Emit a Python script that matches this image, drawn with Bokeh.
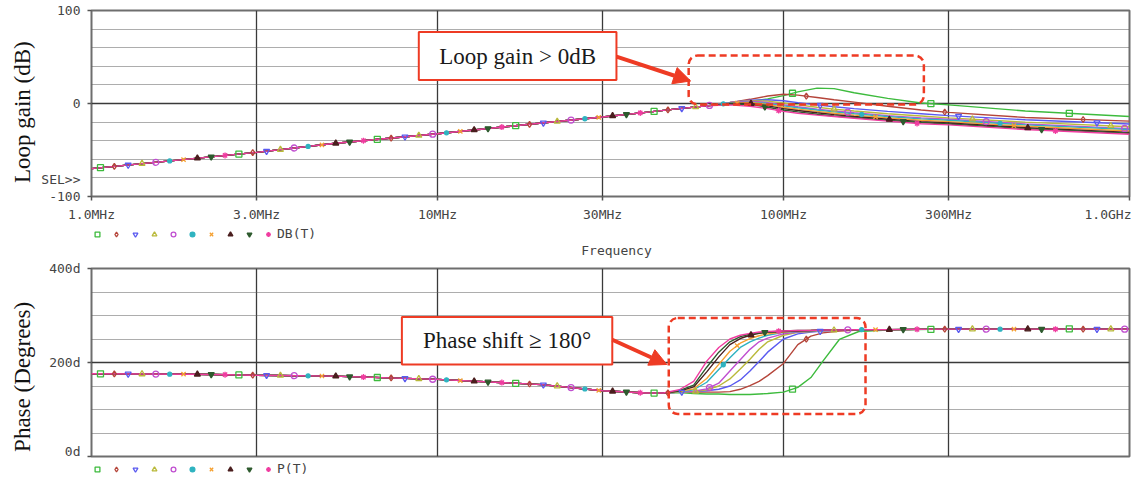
import numpy as np
from bokeh.plotting import figure
from bokeh.layouts import column
from bokeh.models import (FixedTicker, Range1d, BoxAnnotation, Label, Arrow, NormalHead,
                          Legend, LegendItem, ColumnDataSource)
from bokeh.embed import file_html
from bokeh.resources import INLINE
from bokeh.core.properties import value

# ---------------- data ----------------
freq_ticks = [1, 3, 10, 30, 100, 300, 1000]          # MHz
freq_tick_labels = ["1.0MHz", "3.0MHz", "10MHz", "30MHz", "100MHz", "300MHz", "1.0GHz"]
gain_ticks = [-100, 0, 100]
gain_tick_labels = ["-100", "0", "100"]
gain_grid_minor = [-80, -60, -40, -20, 20, 40, 60, 80]
sel_marker_level = -82                                 # "SEL>>" cursor marker on the dB axis
phase_ticks = [0, 200, 400]
phase_tick_labels = ["0d", "200d", "400d"]
phase_grid_minor = [50, 100, 150, 250, 300, 350]

series_colors = ["#3dbb3d", "#b5453a", "#5a5af0", "#b9b93a", "#c04fd0",
                 "#2fb3c0", "#f5a030", "#4a1e1e", "#2e5a2e", "#f03ca0"]
series_markers = ["square", "diamond", "inverted_triangle", "triangle", "circle",
                  "circle", "x", "triangle", "inverted_triangle", "asterisk"]
series_hollow = [True, True, True, True, True, False, False, False, False, False]

# loop gain (dB): common low-frequency part, then per-trace high-frequency part
freq_gain_low = [1, 2, 3, 5, 10, 20, 30, 40, 50]
gain_low = [-70, -59, -52.5, -43, -32.5, -21, -14.5, -9.5, -5.5]
freq_gain_high = [60, 70, 80, 90, 100, 110, 125, 140, 160, 200, 250, 300, 500, 1000]
gain_green = [-2.5, 0.0, 2.5, 5.0, 8.5, 12.5, 16.5, 16.0, 11.5, 5.5, 0.5, -1.5, -8.0, -14.0]
gain_red = [-2.5, 1.0, 4.5, 8.0, 10.0, 9.0, 6.5, 4.0, 1.5, -3.0, -7.0, -9.5, -15.0, -19.0]
gain_blue = [-2.5, 1.0, 3.5, 4.0, 3.0, 1.0, -1.5, -3.5, -5.5, -8.5, -11.0, -13.0, -17.5, -22.0]
gain_olive = [-2.5, 1.0, 3.0, 2.5, 0.5, -1.5, -4.0, -6.0, -8.0, -11.0, -13.5, -15.5, -20.0, -25.0]
gain_purple = [-2.5, 1.0, 2.5, 1.0, -1.5, -3.5, -6.0, -8.0, -10.0, -13.0, -15.5, -17.0, -22.0, -27.0]
gain_cyan = [-2.5, 0.5, 1.5, 0.0, -2.5, -4.5, -7.0, -9.0, -11.0, -14.0, -16.5, -18.0, -23.0, -28.0]
gain_orange = [-2.5, 0.0, 1.0, -1.0, -4.0, -6.0, -8.5, -10.5, -12.5, -15.5, -18.0, -19.5, -24.5, -29.5]
gain_brown = [-2.5, 0.0, 0.0, -2.5, -5.5, -7.5, -10.0, -12.0, -14.0, -17.0, -19.5, -21.0, -26.0, -31.0]
gain_dkgreen = [-2.5, -0.5, -1.0, -4.0, -7.0, -9.0, -11.5, -13.5, -15.0, -18.2, -20.5, -22.0, -27.0, -32.0]
gain_pink = [-2.5, -1.5, -3.0, -5.5, -8.5, -10.5, -12.5, -14.0, -15.8, -19.0, -21.8, -23.0, -28.0, -33.0]

# phase (degrees)
freq_phase_low = [1, 2, 3, 5, 10, 20, 30, 40, 45]
phase_low = [176, 175, 173, 171, 164, 153, 140, 135, 135]
freq_phase_high = [50, 55, 60, 65, 70, 75, 80, 85, 90, 100, 110, 120, 130, 145, 165, 200, 300, 1000]
phase_green = [136, 134, 133, 133, 132, 132, 132, 133, 134, 137, 147, 168, 203, 249, 266, 269, 271, 272]
phase_red = [137, 137, 137, 137, 138, 143, 151, 160, 172, 198, 238, 256, 263, 267, 269, 270, 271, 271]
phase_blue = [137, 138, 140, 143, 150, 163, 182, 202, 222, 250, 261, 265, 267, 269, 270, 270, 271, 271]
phase_olive = [137, 138, 142, 150, 165, 186, 207, 228, 244, 258, 264, 266, 268, 269, 270, 270, 271, 271]
phase_purple = [137, 139, 144, 156, 182, 206, 228, 244, 252, 261, 265, 267, 268, 269, 270, 270, 271, 271]
phase_cyan = [137, 142, 158, 185, 210, 232, 244, 252, 258, 264, 266, 267, 268, 269, 270, 270, 271, 271]
phase_orange = [138, 144, 166, 196, 224, 241, 251, 257, 261, 265, 267, 268, 268, 269, 270, 270, 271, 271]
phase_brown = [139, 148, 180, 212, 238, 251, 258, 262, 264, 266, 267, 268, 269, 269, 270, 270, 271, 271]
phase_dkgreen = [140, 152, 190, 222, 244, 255, 260, 263, 265, 267, 268, 268, 269, 269, 270, 270, 271, 271]
phase_pink = [142, 160, 203, 232, 250, 258, 262, 265, 266, 267, 268, 268, 269, 269, 270, 270, 271, 271]

gain_high_all = [gain_green, gain_red, gain_blue, gain_olive, gain_purple,
                 gain_cyan, gain_orange, gain_brown, gain_dkgreen, gain_pink]
phase_high_all = [phase_green, phase_red, phase_blue, phase_olive, phase_purple,
                  phase_cyan, phase_orange, phase_brown, phase_dkgreen, phase_pink]

# ---------------- styling ----------------
RED = "#ee3b24"
MONO = "DejaVu Sans Mono"
SERIF = "Liberation Serif"
TICK_COL = "#444444"
W = 1131
NBSP = "\u00a0"
BL, BR = 91, 2          # frame left / right borders shared by all rows


def base_fig(height, top, bottom, yr, x_axis=True):
    p = figure(width=W, height=height, x_axis_type="log", x_range=Range1d(1, 1000),
               y_range=Range1d(*yr), output_backend="svg", toolbar_location=None,
               x_axis_location="below" if x_axis else None,
               min_border_left=BL, min_border_right=BR, min_border_top=top, min_border_bottom=bottom)
    p.outline_line_color = "#6e6e6e"
    p.outline_line_width = 2
    p.background_fill_color = "white"
    p.border_fill_color = "white"
    p.xgrid.ticker = FixedTicker(ticks=freq_ticks)
    p.xgrid.grid_line_color = "#3a3a3a"
    p.xgrid.grid_line_width = 1.3
    if x_axis:
        p.xaxis.ticker = FixedTicker(ticks=freq_ticks)
        p.xaxis.major_label_overrides = dict(zip(freq_ticks, freq_tick_labels))
        p.xaxis.axis_line_color = None
        p.xaxis.minor_tick_line_color = None
        p.xaxis.major_tick_in = 0
        p.xaxis.major_tick_out = 4
        p.xaxis.major_tick_line_color = "#555555"
        p.xaxis.major_tick_line_width = 1.5
        p.xaxis.major_label_standoff = 6
        p.xaxis.major_label_text_font = MONO
        p.xaxis.major_label_text_font_size = "13px"
        p.xaxis.major_label_text_color = TICK_COL
    p.yaxis.axis_line_color = None
    p.yaxis.major_tick_line_color = None
    p.yaxis.minor_tick_in = 0
    p.yaxis.minor_tick_out = 4
    p.yaxis.minor_tick_line_color = "#555555"
    p.yaxis.minor_tick_line_width = 1.5
    p.yaxis.major_label_standoff = 5
    p.yaxis.major_label_text_font = MONO
    p.yaxis.major_label_text_font_size = "13px"
    p.yaxis.major_label_text_color = TICK_COL
    p.yaxis.axis_label_text_font = SERIF
    p.yaxis.axis_label_text_font_size = "23px"
    p.yaxis.axis_label_text_font_style = "normal"
    p.yaxis.axis_label_text_color = "#111111"
    p.ygrid.grid_line_color = "#3a3a3a"
    p.ygrid.grid_line_width = 1.3
    p.ygrid.minor_grid_line_color = "#5a5a5a"
    p.ygrid.minor_grid_line_dash = "1 1"
    p.ygrid.minor_grid_line_width = 1
    return p


def strip_fig(height):
    # strip for legend rows: its y-range lies far from any data value, so nothing but
    # the legend and labels is visible in it
    s = figure(width=W, height=height, x_axis_type="log", x_range=Range1d(1, 1000),
               y_range=Range1d(1e6, 1e6 + 1), output_backend="svg", toolbar_location=None,
               x_axis_location=None, y_axis_location=None,
               min_border_left=BL, min_border_right=BR, min_border_top=0, min_border_bottom=0)
    s.grid.visible = False
    s.outline_line_color = None
    s.background_fill_color = "white"
    s.border_fill_color = "white"
    return s


def marker_style(i):
    return dict(marker=series_markers[i], line_color=series_colors[i], fill_color=series_colors[i],
                fill_alpha=0 if series_hollow[i] else 1, line_width=1.3)


def draw_traces(p, f_low, v_low, f_high, v_high_all):
    lines_x = [np.array(f_low + f_high, dtype=float) for _ in v_high_all]
    lines_y = [np.array(v_low + vh, dtype=float) for vh in v_high_all]
    for i in range(len(v_high_all)):
        p.line(lines_x[i], lines_y[i], line_color=series_colors[i], line_width=1.4)
    sources = []
    for i in range(len(v_high_all)):
        # PSpice-style trace markers: placed along the drawn trace, staggered per trace
        pos = np.arange(0.026 + 0.04 * i, 3.0, 0.4)
        src = ColumnDataSource(dict(x=10 ** pos, y=np.interp(pos, np.log10(lines_x[i]), lines_y[i])))
        p.scatter("x", "y", source=src,
                  size=4 if series_markers[i] == "circle" and not series_hollow[i] else 6,
                  **marker_style(i))
        sources.append(src)
    return sources


def row_legend(s, sources, label, vy):
    # legend strip under a plot: its renderers share the plot's marker sources (they fall
    # outside this strip's y-range, so only the legend glyphs show)
    rs = [s.scatter("x", "y", source=src, size=6, **marker_style(i)) for i, src in enumerate(sources)]
    items = [LegendItem(label=value(""), renderers=[r]) for r in rs[:-1]]
    items.append(LegendItem(label=value(label), renderers=[rs[-1]]))
    lg = Legend(items=items, location=(0, vy), orientation="horizontal",
                glyph_width=12, glyph_height=14, label_standoff=3, spacing=4,
                padding=0, margin=0, label_width=0, label_height=14,
                border_line_color=None, background_fill_alpha=0,
                label_text_font=MONO, label_text_font_size="13px",
                label_text_color=TICK_COL, label_text_baseline="middle")
    s.add_layout(lg)


def callout(p, box, text, arrow, dashed):
    p.add_layout(BoxAnnotation(left=box[0], right=box[1], bottom=box[2], top=box[3],
                               fill_color="white", fill_alpha=1, line_color=RED, line_width=2,
                               line_alpha=1))
    p.add_layout(Label(x=float(np.sqrt(box[0] * box[1])), y=(box[2] + box[3]) / 2, text=text,
                       text_align="center", text_baseline="middle", text_font=SERIF,
                       text_font_size="23px", text_color="#1a1a1a"))
    p.add_layout(Arrow(end=NormalHead(size=17, fill_color=RED, line_color=RED),
                       x_start=arrow[0], y_start=arrow[1], x_end=arrow[2], y_end=arrow[3],
                       line_color=RED, line_width=4))
    p.add_layout(BoxAnnotation(left=dashed[0], right=dashed[1], bottom=dashed[2], top=dashed[3],
                               fill_alpha=0, line_color=RED, line_width=2.5, line_dash="7 4",
                               line_alpha=1, border_radius=9))


# ---------------- top: loop gain ----------------
p1 = base_fig(224, 10, 26, (gain_ticks[0], gain_ticks[-1]))
p1.yaxis.ticker = FixedTicker(ticks=gain_ticks + [sel_marker_level], minor_ticks=gain_ticks)
p1.yaxis.major_label_overrides = {**dict(zip(gain_ticks, gain_tick_labels)), sel_marker_level: "SEL>>"}
p1.yaxis.axis_label = "Loop gain (dB)" + NBSP * 3
p1.yaxis.axis_label_standoff = 3
p1.ygrid.ticker = FixedTicker(ticks=[0], minor_ticks=gain_grid_minor)
src1 = draw_traces(p1, freq_gain_low, gain_low, freq_gain_high, gain_high_all)
callout(p1, (8.83, 32.9, 25.3, 76.8), "Loop gain > 0dB",
        (32.9, 50.5, 53.9, 24.2), (53.2, 254.5, -1.05, 51.6))

# legend row + "Frequency" under the top plot
s1 = strip_fig(34)
row_legend(s1, src1, "DB(T)", 17)
s1.add_layout(Label(x=float(np.sqrt(s1.x_range.start * s1.x_range.end)), x_offset=6,
                    y=s1.y_range.start, y_offset=8, text="Frequency", text_align="center",
                    text_baseline="middle", text_font=MONO, text_font_size="13px",
                    text_color=TICK_COL))

# ---------------- bottom: phase ----------------
p2 = base_fig(200, 10, 2, (phase_ticks[0], phase_ticks[-1]), x_axis=False)
p2.yaxis.ticker = FixedTicker(ticks=phase_ticks, minor_ticks=phase_ticks)
p2.yaxis.major_label_overrides = dict(zip(phase_ticks, phase_tick_labels))
p2.yaxis.axis_label = "Phase (Degrees)" + NBSP * 5
p2.yaxis.axis_label_standoff = 11
p2.ygrid.ticker = FixedTicker(ticks=[200], minor_ticks=phase_grid_minor)
src2 = draw_traces(p2, freq_phase_low, phase_low, freq_phase_high, phase_high_all)
callout(p2, (7.89, 32.0, 195.8, 296.8), "Phase shift \u2265 180\u00b0",
        (32.0, 248.4, 46.0, 195.8), (46.6, 172.6, 90.5, 294.7))

s2 = strip_fig(18)
row_legend(s2, src2, "P(T)", 0)

layout = column(p1, s1, p2, s2, spacing=0)
open("out.html", "w").write(file_html(layout, INLINE))
